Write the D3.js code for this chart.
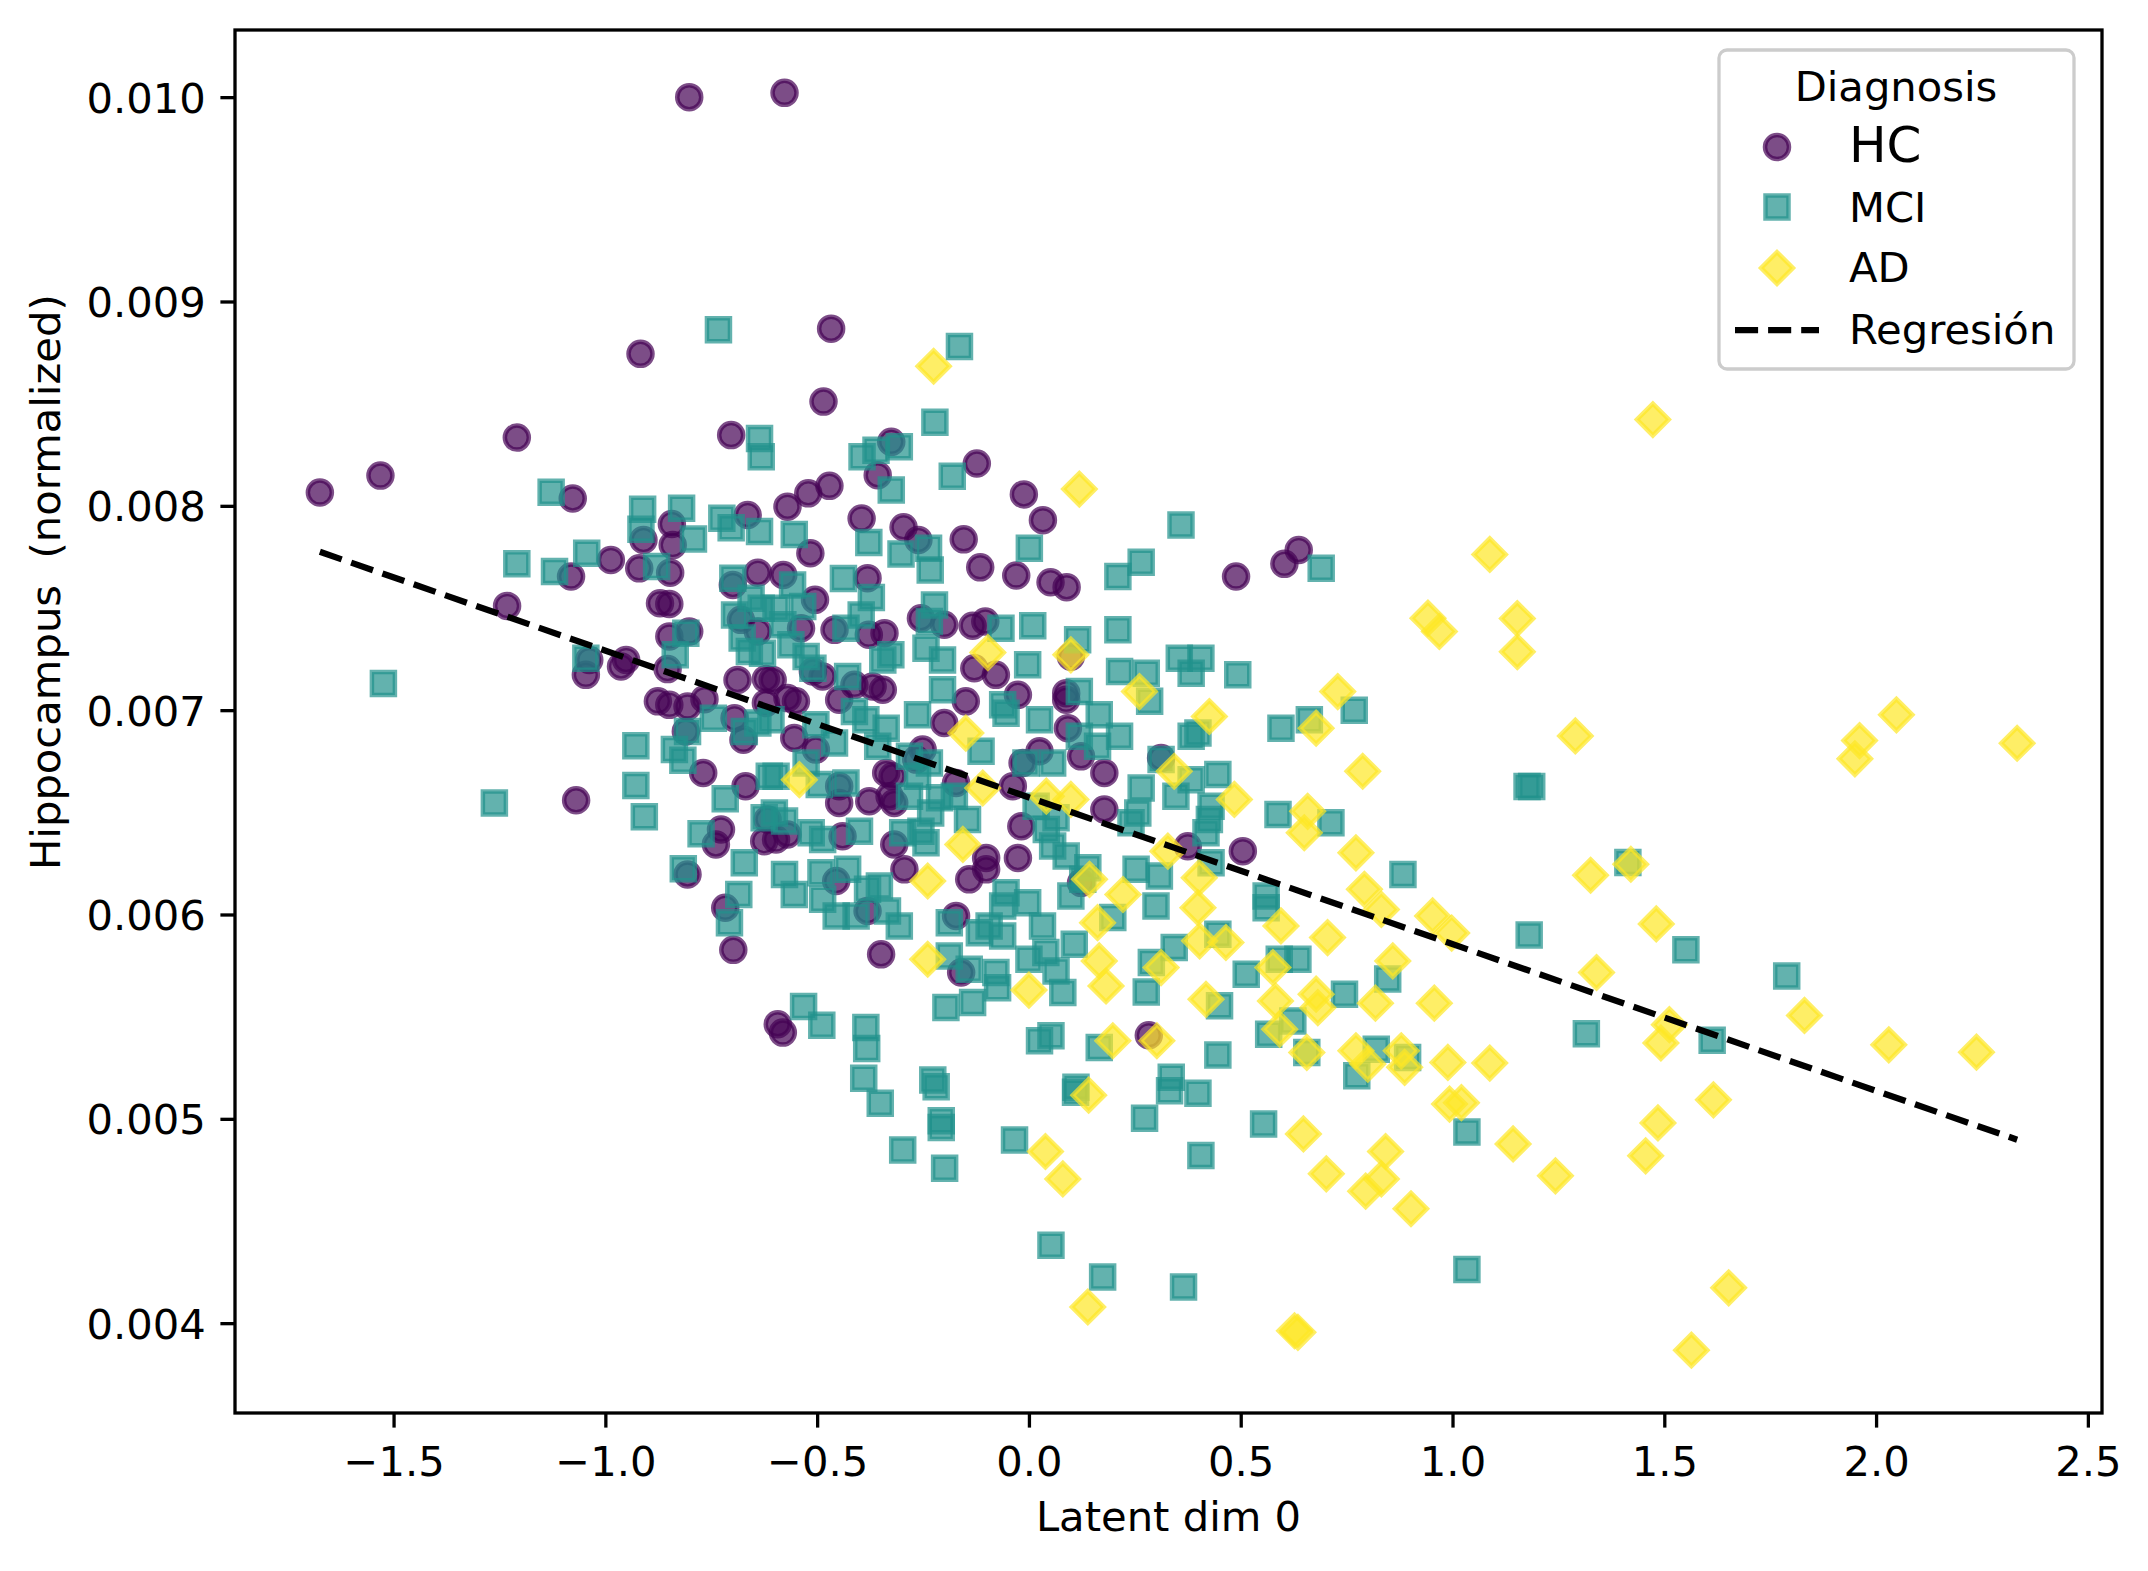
<!DOCTYPE html>
<html>
<head>
<meta charset="utf-8">
<script src="https://cdn.jsdelivr.net/npm/d3@7"></script>
<style>
  body { margin: 0; background: #fff; }
  text { font-family: "DejaVu Sans", sans-serif; }
</style>
</head>
<body>
<div class="container"></div>
<script>
const categories = ['HC', 'MCI', 'AD']

// [latent dim 0, hippocampus normalized]
const hcPoints = [
    [-0.802,0.010000],[-0.577,0.010021],[-1.674,0.008065],[-1.531,0.008148],
    [-0.917,0.008744],[-1.209,0.008334],[-0.703,0.008346],[-1.077,0.008036],[-0.664,0.007955],[-0.843,0.007911],[-0.910,0.007833],[-0.841,0.007808],[-0.987,0.007735],[-0.920,0.007694],[-0.847,0.007673],[-0.640,0.007673],[-1.081,0.007654],[-0.699,0.007613],[-1.232,0.007510],[-0.871,0.007523],[-0.849,0.007520],[-0.680,0.007442],[-0.849,0.007361],[-0.802,0.007385],[-0.640,0.007385],
    [-0.467,0.008867],[-0.485,0.008510],[-0.325,0.008313],[-0.123,0.008207],[-0.357,0.008150],[-0.471,0.008098],[-0.521,0.008061],[-0.570,0.007996],[-0.012,0.008056],[0.033,0.007930],[-0.395,0.007938],[-0.296,0.007895],[-0.261,0.007833],[-0.154,0.007836],[-0.516,0.007768],[-0.115,0.007699],[-0.030,0.007659],[0.051,0.007626],[0.089,0.007602],[-0.580,0.007662],[-0.381,0.007646],[-0.505,0.007540],[-0.255,0.007450],[-0.200,0.007418],[-0.133,0.007413],[-0.103,0.007434],[-0.538,0.007401],[-0.459,0.007393],[-0.341,0.007377],[-0.378,0.007369],
    [0.489,0.007654],[0.603,0.007716],[0.637,0.007784],
    [-1.046,0.007173],[-1.038,0.007246],[-0.951,0.007246],[-0.963,0.007214],[-0.853,0.007201],[-0.876,0.007043],[-0.849,0.007026],[-0.806,0.007018],[-0.766,0.007054],[-0.688,0.007148],[-0.621,0.007152],[-0.810,0.006896],[-0.695,0.006961],[-0.674,0.006855],[-0.621,0.007035],[-0.769,0.006693],[-0.669,0.006628],[-1.069,0.006559],[-0.727,0.006416],[-0.739,0.006343],[-0.625,0.006359],[-0.617,0.006465],[-0.806,0.006196],[-0.717,0.006033],[-0.698,0.005827],
    [-0.605,0.007148],[-0.550,0.007043],[-0.570,0.007059],[-0.510,0.007189],[-0.487,0.007165],[-0.448,0.007051],[-0.412,0.007124],[-0.369,0.007116],[-0.345,0.007100],[-0.554,0.006864],[-0.503,0.006807],[-0.448,0.006628],[-0.448,0.006546],[-0.322,0.006676],[-0.337,0.006693],[-0.377,0.006554],[-0.318,0.006546],[-0.329,0.006579],[-0.251,0.006807],[-0.266,0.006758],[-0.200,0.006937],[-0.149,0.007043],[-0.129,0.007205],[-0.078,0.007173],[-0.026,0.007075],[0.088,0.007083],[0.088,0.007051],[0.099,0.007262],[0.092,0.006912],[0.025,0.006799],[-0.015,0.006742],[-0.038,0.006628],[-0.172,0.006644],[-0.018,0.006432],[0.178,0.006514],[0.178,0.006693],[0.123,0.006774],[-0.597,0.006367],[-0.570,0.006392],[-0.440,0.006383],[-0.318,0.006343],[-0.294,0.006221],[-0.141,0.006172],[-0.101,0.006277],[-0.101,0.006221],[-0.026,0.006277],[-0.455,0.006164],[-0.381,0.006017],[-0.172,0.005993],[-0.349,0.005805],[-0.160,0.005716],[0.123,0.006155],
    [0.312,0.006766],[0.375,0.006334],[0.505,0.006310],
    [-0.593,0.005463],[-0.581,0.005422],[0.283,0.005409]
]

const mciPoints = [
    [-1.524,0.007130],
    [-0.733,0.008862],[-1.128,0.008066],[-0.912,0.007983],[-0.820,0.007988],[-0.916,0.007885],[-0.725,0.007939],[-0.703,0.007893],[-0.636,0.008329],[-0.632,0.008240],[-0.636,0.007874],[-1.044,0.007768],[-1.209,0.007716],[-1.120,0.007678],[-0.792,0.007838],[-0.879,0.007703],[-0.699,0.007646],[-0.656,0.007548],[-0.695,0.007466],[-0.632,0.007499],[-0.810,0.007377],[-0.677,0.007353],
    [-0.164,0.008780],[-0.222,0.008409],[-0.394,0.008240],[-0.361,0.008272],[-0.306,0.008289],[-0.181,0.008145],[-0.325,0.008077],[-0.554,0.007860],[-0.378,0.007821],[-0.302,0.007764],[-0.237,0.007792],[-0.233,0.007686],[0.001,0.007792],[-0.438,0.007644],[-0.372,0.007551],[-0.396,0.007466],[-0.558,0.007613],[-0.534,0.007507],[-0.597,0.007499],[-0.581,0.007418],[-0.223,0.007515],[-0.235,0.007434],[-0.066,0.007401],[0.009,0.007413],[0.115,0.007344],[-0.432,0.007401],
    [0.359,0.007906],[0.265,0.007724],[0.210,0.007654],[0.210,0.007393],[0.690,0.007694],
    [-1.046,0.007254],[-0.835,0.007271],[-0.660,0.007287],[-0.629,0.007279],[-0.745,0.006961],[-0.806,0.006896],[-0.672,0.006896],[-0.640,0.006937],[-0.928,0.006826],[-0.837,0.006807],[-0.817,0.006755],[-0.928,0.006631],[-0.908,0.006478],[-0.717,0.006566],[-0.774,0.006395],[-0.625,0.006473],[-0.613,0.006676],[-1.262,0.006546],[-0.672,0.006253],[-0.816,0.006224],[-0.685,0.006098],[-0.707,0.005960],
    [-0.562,0.007320],[-0.526,0.007262],[-0.510,0.007205],[-0.428,0.007165],[-0.345,0.007246],[-0.326,0.007271],[-0.243,0.007303],[-0.204,0.007246],[-0.204,0.007100],[-0.263,0.006977],[-0.412,0.006994],[-0.385,0.006953],[-0.337,0.006912],[-0.503,0.006929],[-0.609,0.006953],[-0.459,0.006839],[-0.357,0.006823],[-0.282,0.006774],[-0.235,0.006742],[-0.526,0.006742],[-0.597,0.006676],[-0.432,0.006644],[-0.495,0.006636],[-0.263,0.006676],[-0.282,0.006579],[-0.211,0.006571],[-0.176,0.006579],[-0.145,0.006465],[-0.232,0.006497],[-0.255,0.006408],[-0.243,0.006351],[-0.298,0.006400],[-0.577,0.006457],[-0.601,0.006497],[-0.514,0.006400],[-0.487,0.006367],[-0.400,0.006408],[-0.113,0.006799],[-0.062,0.007026],[-0.054,0.006985],[0.025,0.006953],[-0.003,0.007222],[0.119,0.007091],[0.166,0.006977],[0.119,0.006872],[0.162,0.006823],[-0.007,0.006742],[0.056,0.006742],[0.017,0.006530],[0.064,0.006473],[0.041,0.006416],[0.056,0.006335],[0.088,0.006286],[0.139,0.006229],[0.127,0.006172],[-0.054,0.006107],[-0.003,0.006058],[-0.062,0.006042],[0.099,0.006090],[0.032,0.005944],[0.107,0.005854],[-0.062,0.005895],[-0.094,0.005944],[-0.117,0.005911],[-0.188,0.005960],[-0.188,0.005797],[-0.141,0.005732],[-0.078,0.005716],[0.000,0.005781],[0.040,0.005814],[0.064,0.005724],[-0.577,0.006196],[-0.491,0.006204],[-0.428,0.006221],[-0.554,0.006098],[-0.487,0.006074],[-0.455,0.005993],[-0.381,0.006123],[-0.353,0.006139],[-0.334,0.006017],[-0.306,0.005944],[-0.408,0.005993],
    [0.355,0.007254],[0.406,0.007254],[0.383,0.007181],[0.493,0.007173],[0.277,0.007181],[0.285,0.007043],[0.214,0.007189],[0.214,0.006872],[0.383,0.006872],[0.399,0.006888],[0.595,0.006912],[0.662,0.006953],[0.768,0.006999],[0.312,0.006758],[0.446,0.006685],[0.383,0.006660],[0.265,0.006619],[0.347,0.006579],[0.430,0.006530],[0.257,0.006497],[0.241,0.006449],[0.426,0.006465],[0.418,0.006400],[0.588,0.006489],[0.713,0.006449],[0.883,0.006196],[0.253,0.006221],[0.308,0.006188],[0.300,0.006042],[0.430,0.006253],[0.560,0.006090],[0.560,0.006033],[0.343,0.005838],[0.289,0.005765],[0.446,0.005903],[0.591,0.005781],[0.635,0.005781],[0.513,0.005708],[0.847,0.005684],[0.198,0.005985],
    [-0.532,0.005550],[-0.489,0.005458],[-0.385,0.005447],[-0.383,0.005344],[-0.390,0.005198],[-0.351,0.005076],[-0.227,0.005190],[-0.219,0.005157],[-0.207,0.004991],[-0.207,0.004958],[-0.298,0.004848],[-0.199,0.004758],[-0.196,0.005545],[-0.133,0.005569],[-0.074,0.005642],[0.080,0.005618],[0.025,0.005382],[0.052,0.005406],[0.110,0.005130],[0.111,0.005154],[-0.034,0.004897],[0.052,0.004381],[0.174,0.004226],[0.166,0.005349],
    [0.277,0.005621],[0.450,0.005553],[0.623,0.005479],[0.566,0.005414],[0.656,0.005325],[0.745,0.005610],[0.820,0.005341],[0.894,0.005300],[0.774,0.005211],[0.446,0.005312],[0.336,0.005203],[0.332,0.005138],[0.399,0.005125],[0.273,0.005003],[0.554,0.004975],[0.406,0.004820],[0.365,0.004177],
    [1.176,0.006627],[1.187,0.006627],[1.414,0.006254],[1.181,0.005900],[1.551,0.005828],[1.789,0.005699],[1.316,0.005416],[1.613,0.005384],[1.034,0.004935],[1.034,0.004263]
]

const adPoints = [
    [-0.225,0.008683],[0.119,0.008082],[0.942,0.007450],[0.969,0.007385],
    [-0.097,0.007282],[0.099,0.007271],[-0.149,0.006888],[-0.542,0.006660],[-0.109,0.006619],[0.041,0.006579],[0.099,0.006563],[-0.156,0.006343],[-0.239,0.006164],[0.143,0.006172],[0.162,0.005960],[-0.239,0.005781],[0.166,0.005773],
    [0.261,0.007091],[0.426,0.006969],[0.729,0.007091],[0.678,0.006912],[0.788,0.006701],[0.343,0.006701],[0.485,0.006563],[0.658,0.006505],[0.650,0.006400],[0.772,0.006302],[0.328,0.006310],[0.402,0.006180],[0.792,0.006123],[0.832,0.006025],[0.953,0.005993],[0.222,0.006098],[0.399,0.006033],[0.595,0.005944],[0.705,0.005887],[0.403,0.005871],[0.465,0.005863],[0.859,0.005773],[0.312,0.005740],[0.576,0.005740],
    [0.000,0.005630],[0.141,0.005116],[0.039,0.004840],[0.080,0.004706],[0.139,0.004079],[0.182,0.005650],
    [0.418,0.005585],[0.582,0.005577],[0.678,0.005610],[0.682,0.005544],[0.592,0.005439],[0.656,0.005325],[0.818,0.005566],[0.957,0.005566],[0.772,0.005333],[0.800,0.005268],[0.879,0.005333],[0.887,0.005252],[0.989,0.005276],[0.993,0.005072],[0.302,0.005382],[0.198,0.005382],[0.648,0.004926],[0.842,0.004840],[0.702,0.004731],[0.832,0.004706],[0.795,0.004646],[0.902,0.004560],
    [0.627,0.003963],[0.635,0.003955],
    [1.473,0.008422],[1.088,0.007762],[1.153,0.007448],[1.153,0.007286],[1.290,0.006874],[1.961,0.006851],[1.950,0.006762],[2.048,0.006977],[2.333,0.006838],[1.326,0.006192],[1.421,0.006246],[1.481,0.005954],[1.340,0.005716],[1.512,0.005461],[1.492,0.005371],[1.831,0.005506],[2.030,0.005362],[2.237,0.005326],[1.616,0.005093],[1.485,0.004980],[1.456,0.004819],[1.652,0.004173],[1.564,0.003868],[1.143,0.004877],[1.243,0.004721],[1.021,0.005079],[1.088,0.005273],[0.998,0.005909]
]

const xTicks = [-1.5, -1.0, -0.5, 0.0, 0.5, 1.0, 1.5, 2.0, 2.5]
const yTicks = [0.004, 0.005, 0.006, 0.007, 0.008, 0.009, 0.010]

// fitted line
const regSlope = -0.000718
const regIntercept = 0.006573

const width = 2148, height = 1571
const plot = {left: 235, right: 2102, top: 30, bottom: 1413}
const fs = 41.7

const series = [
    {name: categories[0], data: hcPoints, color: '#440154', symbol: d3.symbolCircle, size: Math.PI * 12 * 12, rot: 0},
    {name: categories[1], data: mciPoints, color: '#21918c', symbol: d3.symbolSquare, size: 23 * 23, rot: 0},
    {name: categories[2], data: adPoints, color: '#fde725', symbol: d3.symbolSquare, size: 22.5 * 22.5, rot: 45},
]

const allPoints = hcPoints.concat(mciPoints, adPoints)
const xExt = d3.extent(allPoints, d => d[0])
const yExt = d3.extent(allPoints, d => d[1])
// matplotlib style 5% margins
const pad = e => { const p = (e[1] - e[0]) * 0.05; return [e[0] - p, e[1] + p] }

const xScale = d3.scaleLinear().domain(pad(xExt)).range([plot.left, plot.right])
const yScale = d3.scaleLinear().domain(pad(yExt)).range([plot.bottom, plot.top])

const svg = d3.select('.container')
    .append('svg')
    .attr('width', width)
    .attr('height', height)
    .style('background', '#fff')

const markerStyle = (sel, s) => sel
    .attr('d', d3.symbol(s.symbol, s.size))
    .attr('fill', s.color)
    .attr('fill-opacity', 0.7)
    .attr('stroke', s.color)
    .attr('stroke-opacity', 0.7)
    .attr('stroke-width', 4.5)

series.forEach(s => {
    svg.append('g')
        .selectAll('path')
        .data(s.data)
        .enter()
        .append('path')
        .call(markerStyle, s)
        .attr('transform', d => `translate(${xScale(d[0])},${yScale(d[1])}) rotate(${s.rot})`)
})

// regression line
const line = d3.line()
    .x(d => xScale(d))
    .y(d => yScale(regIntercept + regSlope * d))

svg.append('path')
    .datum(xExt)
    .attr('d', line)
    .attr('fill', 'none')
    .attr('stroke', '#000')
    .attr('stroke-width', 6.25)
    .attr('stroke-dasharray', '23.1,10')

// axes
const xAxis = svg.append('g')
    .attr('transform', `translate(0,${plot.bottom})`)
    .call(d3.axisBottom(xScale).tickValues(xTicks).tickSize(14.6).tickPadding(14.6).tickFormat(d3.format('.1f')))
const yAxis = svg.append('g')
    .attr('transform', `translate(${plot.left},0)`)
    .call(d3.axisLeft(yScale).tickValues(yTicks).tickSize(14.6).tickPadding(14.6).tickFormat(d3.format('.3f')))

;[xAxis, yAxis].forEach(a => {
    a.select('.domain').remove()
    a.selectAll('line').attr('stroke', '#000').attr('stroke-width', 3.3)
    a.selectAll('text').attr('font-size', fs).attr('fill', '#000').attr('font-family', 'DejaVu Sans')
})
xAxis.selectAll('text').attr('dy', '0.8em')
yAxis.selectAll('text').attr('dy', '0.36em')

svg.append('rect')
    .attr('x', plot.left)
    .attr('y', plot.top)
    .attr('width', plot.right - plot.left)
    .attr('height', plot.bottom - plot.top)
    .attr('fill', 'none')
    .attr('stroke', '#000')
    .attr('stroke-width', 3.3)

// axis labels
svg.append('text')
    .attr('x', (plot.left + plot.right) / 2)
    .attr('y', 1531)
    .attr('text-anchor', 'middle')
    .attr('font-size', fs)
    .text('Latent dim 0')

svg.append('text')
    .attr('transform', 'translate(60,870) rotate(-90)')
    .attr('text-anchor', 'start')
    .attr('font-size', fs)
    .attr('xml:space', 'preserve')
    .style('white-space', 'pre')
    .text('Hippocampus  (normalized)')

// legend
const lg = svg.append('g')
lg.append('rect')
    .attr('x', 1719).attr('y', 50)
    .attr('width', 355).attr('height', 319)
    .attr('rx', 8)
    .attr('fill', '#fff').attr('fill-opacity', 0.8)
    .attr('stroke', '#cccccc').attr('stroke-width', 3.3)

lg.append('text')
    .attr('x', 1896).attr('y', 101)
    .attr('text-anchor', 'middle')
    .attr('font-size', fs)
    .text('Diagnosis')

const rowY = [147, 207, 268]
const rowBase = [162, 222, 282]
series.forEach((s, i) => {
    lg.append('path')
        .call(markerStyle, s)
        .attr('transform', `translate(1777,${rowY[i]}) rotate(${s.rot})`)
    lg.append('text')
        .attr('x', 1849).attr('y', rowBase[i])
        .attr('font-size', i === 0 ? 50 : fs)
        .text(s.name)
})

lg.append('line')
    .attr('x1', 1735).attr('x2', 1819)
    .attr('y1', 330).attr('y2', 330)
    .attr('stroke', '#000')
    .attr('stroke-width', 6.25)
    .attr('stroke-dasharray', '23.1,10')
lg.append('text')
    .attr('x', 1849).attr('y', 344)
    .attr('font-size', fs)
    .text('Regresión')
</script>
</body>
</html>
